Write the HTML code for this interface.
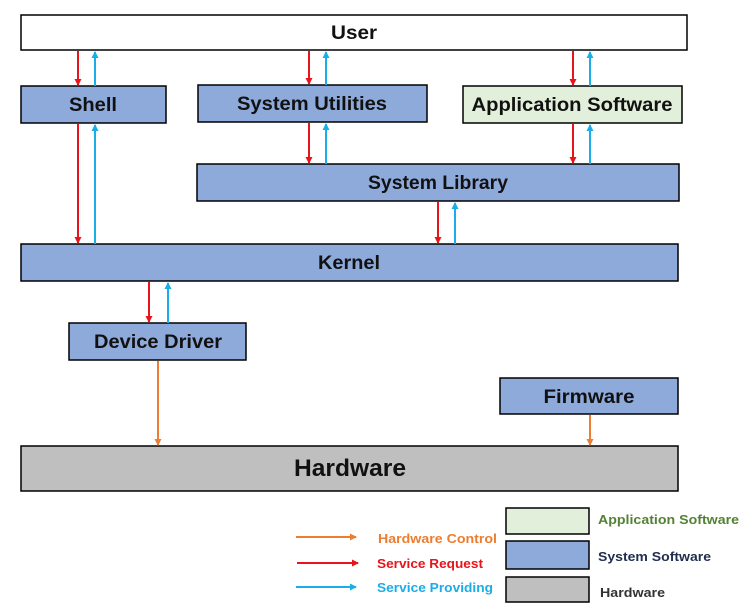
<!DOCTYPE html>
<html><head><meta charset="utf-8"><style>body{margin:0;background:#fff}svg{display:block}text{font-family:"Liberation Sans",sans-serif;font-weight:bold}</style></head>
<body>
<svg width="746" height="608" viewBox="0 0 746 608" xmlns="http://www.w3.org/2000/svg">
<defs>
<marker id="r" markerWidth="8" markerHeight="8" refX="6" refY="4" orient="auto" markerUnits="userSpaceOnUse"><path d="M0,0.5 L7,4 L0,7.5z" fill="#e8141b"/></marker>
<marker id="b" markerWidth="8" markerHeight="8" refX="6" refY="4" orient="auto" markerUnits="userSpaceOnUse"><path d="M0,0.5 L7,4 L0,7.5z" fill="#1aaee8"/></marker>
<marker id="o" markerWidth="8" markerHeight="8" refX="6" refY="4" orient="auto" markerUnits="userSpaceOnUse"><path d="M0,0.5 L7,4 L0,7.5z" fill="#ed7d31"/></marker>
</defs>
<g stroke="#000" stroke-width="1.5">
<rect x="21" y="15" width="666" height="35" fill="#fff"/>
<rect x="21" y="86" width="145" height="37" fill="#8eaadb"/>
<rect x="198" y="85" width="229" height="37" fill="#8eaadb"/>
<rect x="463" y="86" width="219" height="37" fill="#e2efda"/>
<rect x="197" y="164" width="482" height="37" fill="#8eaadb"/>
<rect x="21" y="244" width="657" height="37" fill="#8eaadb"/>
<rect x="69" y="323" width="177" height="37" fill="#8eaadb"/>
<rect x="500" y="378" width="178" height="36" fill="#8eaadb"/>
<rect x="21" y="446" width="657" height="45" fill="#bfbfbf"/>
<rect x="506" y="508" width="83" height="26" fill="#e2efda"/>
<rect x="506" y="541" width="83" height="28" fill="#8eaadb"/>
<rect x="506" y="577" width="83" height="25" fill="#bfbfbf"/>
</g>
<g stroke-width="2">
<line x1="78" y1="51" x2="78" y2="85" stroke="#e8141b" marker-end="url(#r)"/>
<line x1="95" y1="86" x2="95" y2="52" stroke="#1aaee8" marker-end="url(#b)"/>
<line x1="309" y1="51" x2="309" y2="84" stroke="#e8141b" marker-end="url(#r)"/>
<line x1="326" y1="85" x2="326" y2="52" stroke="#1aaee8" marker-end="url(#b)"/>
<line x1="573" y1="51" x2="573" y2="85" stroke="#e8141b" marker-end="url(#r)"/>
<line x1="590" y1="86" x2="590" y2="52" stroke="#1aaee8" marker-end="url(#b)"/>
<line x1="78" y1="124" x2="78" y2="243" stroke="#e8141b" marker-end="url(#r)"/>
<line x1="95" y1="244" x2="95" y2="125" stroke="#1aaee8" marker-end="url(#b)"/>
<line x1="309" y1="123" x2="309" y2="163" stroke="#e8141b" marker-end="url(#r)"/>
<line x1="326" y1="164" x2="326" y2="124" stroke="#1aaee8" marker-end="url(#b)"/>
<line x1="573" y1="124" x2="573" y2="163" stroke="#e8141b" marker-end="url(#r)"/>
<line x1="590" y1="164" x2="590" y2="125" stroke="#1aaee8" marker-end="url(#b)"/>
<line x1="438" y1="202" x2="438" y2="243" stroke="#e8141b" marker-end="url(#r)"/>
<line x1="455" y1="244" x2="455" y2="203" stroke="#1aaee8" marker-end="url(#b)"/>
<line x1="149" y1="282" x2="149" y2="322" stroke="#e8141b" marker-end="url(#r)"/>
<line x1="168" y1="323" x2="168" y2="283" stroke="#1aaee8" marker-end="url(#b)"/>
<line x1="158" y1="361" x2="158" y2="445" stroke="#ed7d31" marker-end="url(#o)"/>
<line x1="590" y1="415" x2="590" y2="445" stroke="#ed7d31" marker-end="url(#o)"/>
<line x1="296" y1="537" x2="356" y2="537" stroke="#ed7d31" marker-end="url(#o)"/>
<line x1="297" y1="563" x2="358" y2="563" stroke="#e8141b" marker-end="url(#r)"/>
<line x1="296" y1="587" x2="356" y2="587" stroke="#1aaee8" marker-end="url(#b)"/>
</g>
<g fill="#111" font-size="19" text-anchor="middle">
<text x="354" y="39" textLength="46" lengthAdjust="spacingAndGlyphs">User</text>
<text x="93" y="111" textLength="48" lengthAdjust="spacingAndGlyphs">Shell</text>
<text x="312" y="110" textLength="150" lengthAdjust="spacingAndGlyphs">System Utilities</text>
<text x="572" y="111" textLength="201" lengthAdjust="spacingAndGlyphs">Application Software</text>
<text x="438" y="189" textLength="140" lengthAdjust="spacingAndGlyphs">System Library</text>
<text x="349" y="269" textLength="62" lengthAdjust="spacingAndGlyphs">Kernel</text>
<text x="158" y="348" textLength="128" lengthAdjust="spacingAndGlyphs">Device Driver</text>
<text x="589" y="403" textLength="91" lengthAdjust="spacingAndGlyphs">Firmware</text>
<text x="350" y="476" font-size="24" textLength="112" lengthAdjust="spacingAndGlyphs">Hardware</text>
</g>
<g font-size="13" text-anchor="start">
<text x="378" y="543" fill="#ed7d31" textLength="119" lengthAdjust="spacingAndGlyphs">Hardware Control</text>
<text x="377" y="568" fill="#e8141b" textLength="106" lengthAdjust="spacingAndGlyphs">Service Request</text>
<text x="377" y="592" fill="#1aaee8" textLength="116" lengthAdjust="spacingAndGlyphs">Service Providing</text>
<text x="598" y="524" fill="#548235" textLength="141" lengthAdjust="spacingAndGlyphs">Application Software</text>
<text x="598" y="561" fill="#1f2d4f" textLength="113" lengthAdjust="spacingAndGlyphs">System Software</text>
<text x="600" y="597" fill="#333" textLength="65" lengthAdjust="spacingAndGlyphs">Hardware</text>
</g>
</svg>
</body></html>
